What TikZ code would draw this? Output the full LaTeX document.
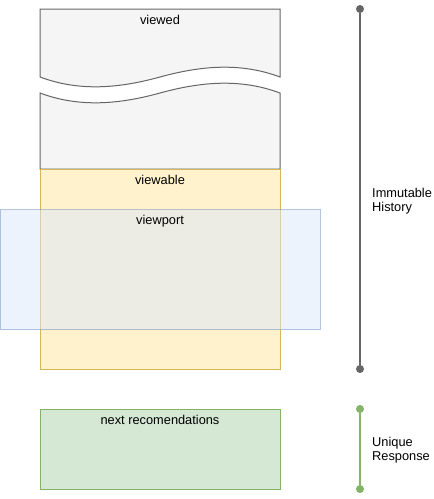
\documentclass[tikz,border=0pt]{standalone}
\usepackage{fontspec}
\setmainfont{Liberation Sans}
\usetikzlibrary{positioning}
\definecolor{viewedFill}{HTML}{F5F5F5}
\definecolor{viewedLine}{HTML}{666666}
\definecolor{viewableFill}{HTML}{FFF2CC}
\definecolor{viewableLine}{HTML}{D6B656}
\definecolor{portFill}{HTML}{DAE8FC}
\definecolor{portLine}{HTML}{6C8EBF}
\definecolor{nextFill}{HTML}{D5E8D4}
\definecolor{nextLine}{HTML}{82B366}
\tikzset{
  every node/.style={font=\fontsize{12.8}{14.5}\selectfont},
  box/.style={rectangle,draw,line width=1pt,inner sep=0pt,anchor=north},
  caption/.style={anchor=base,inner sep=0pt},
  dot/.style={circle,inner sep=0pt,minimum size=8pt},
  span/.style={line width=2pt}
}
\begin{document}
\begin{tikzpicture}[x=1pt,y=-1pt]
    \useasboundingbox (0,0) rectangle (434,499);

    % viewed, with a break
    \draw[fill=viewedFill, draw=viewedLine, line width=1pt]
      (40,77) -- (40,9) -- (280,9) -- (280,77)
      .. controls (240,62) and (200,66) .. (160,77)
      .. controls (120,88) and (80,92) .. (40,77) -- cycle;
    \draw[fill=viewedFill, draw=viewedLine, line width=1pt]
      (40,93) .. controls (80,108) and (120,104) .. (160,93)
      .. controls (200,82) and (240,78) .. (280,93)
      -- (280,169) -- (40,169) -- cycle;
    \node[caption] (viewedText) at (160,24) {viewed};

    \node[box, fill=viewableFill, draw=viewableLine, minimum width=240pt, minimum height=200pt] (viewable) at (160,169) {};
    \node[caption] (viewableText) at ([yshift=-15pt]viewable.north) {viewable};

    \node[box, fill=portFill, draw=portLine, opacity=0.5, minimum width=320pt, minimum height=120pt] (viewport) at (160,209) {};
    \node[caption] (viewportText) at ([yshift=-15pt]viewport.north) {viewport};

    \node[box, fill=nextFill, draw=nextLine, minimum width=240pt, minimum height=80pt] (next) at (160,409) {};
    \node[caption] (nextText) at ([yshift=-15pt]next.north) {next recomendations};

    % time spans
    \node[dot, fill=viewedLine] (histTop) at (360,9) {};
    \node[dot, fill=viewedLine] (histEnd) at (360,369) {};
    \draw[span, viewedLine] (histTop) -- (histEnd);
    \node[anchor=west, align=left, inner sep=0pt] (histText) at (372,201) {Immutable\\History};

    \node[dot, fill=nextLine] (respTop) at (360,409) {};
    \node[dot, fill=nextLine] (respEnd) at (360,489) {};
    \draw[span, nextLine] (respTop) -- (respEnd);
    \node[anchor=west, align=left, inner sep=0pt] (respText) at (372,450) {Unique\\Response};

\end{tikzpicture}
\end{document}
